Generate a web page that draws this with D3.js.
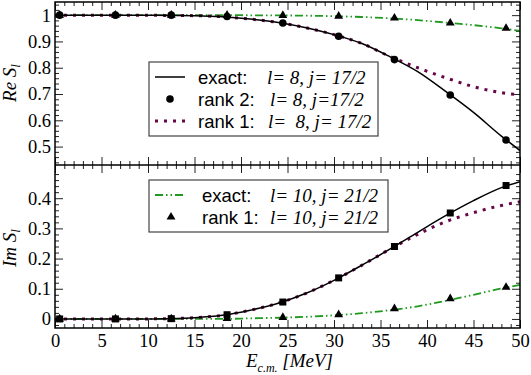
<!DOCTYPE html>
<html>
<head>
<meta charset="utf-8">
<script src="https://cdn.jsdelivr.net/npm/d3@7"></script>
<style>
  body { margin: 0; background: #fff; }
  svg { display: block; }
  .lab { font-family: 'Liberation Serif', serif; font-style: italic; font-size: 19px; }
  .leg { font-family: 'Liberation Sans', Arial, sans-serif; font-size: 18.5px; font-style: normal; }
</style>
</head>
<body>
<svg id="chart" width="531" height="375"></svg>
<script>
// energies of the smooth curves and of the markers (MeV)
const eCurve = [0, 3, 6, 9, 12, 15, 18, 21, 24, 27, 30, 33, 36, 39, 42, 45, 48, 50];
const eMarks = [0.5, 6.5, 12.5, 18.5, 24.5, 30.5, 36.5, 42.5, 48.5];

// Re S_l
const reExactL8 = [1, 1, 1, 1, 0.999, 0.998, 0.994, 0.985, 0.972, 0.952, 0.926, 0.892, 0.842, 0.785, 0.71, 0.63, 0.54, 0.485];
const reRank1L8 = [1, 1, 1, 1, 0.999, 0.998, 0.994, 0.985, 0.972, 0.952, 0.926, 0.892, 0.843, 0.8, 0.762, 0.728, 0.705, 0.697];
const reExactL10 = [1, 1, 1, 1, 1, 1, 1, 0.9995, 0.999, 0.998, 0.996, 0.993, 0.988, 0.981, 0.972, 0.962, 0.95, 0.94];
const reRank2L8Pts = [1, 1, 1, 0.995, 0.97, 0.92, 0.831, 0.696, 0.525];
const reRank1L10Pts = [1, 1, 1, 1, 0.999, 0.996, 0.989, 0.97, 0.95];

// Im S_l
const imExactL8 = [0, 0, 0, 0, 0.001, 0.004, 0.012, 0.029, 0.052, 0.085, 0.128, 0.178, 0.231, 0.287, 0.342, 0.392, 0.435, 0.455];
const imRank1L8 = [0, 0, 0, 0, 0.001, 0.004, 0.012, 0.029, 0.052, 0.085, 0.128, 0.178, 0.231, 0.28, 0.322, 0.352, 0.376, 0.388];
const imExactL10 = [0, 0, 0, 0, 0, 0, 0, 0.002, 0.004, 0.007, 0.012, 0.019, 0.029, 0.042, 0.06, 0.08, 0.101, 0.113];
const imRank2L8Pts = [0, 0, 0.001, 0.014, 0.056, 0.136, 0.24, 0.351, 0.442];
const imRank1L10Pts = [0, 0, 0, 0.002, 0.005, 0.014, 0.034, 0.067, 0.105];

const xMajor = [0, 5, 10, 15, 20, 25, 30, 35, 40, 45, 50];
const reMajor = [0.5, 0.6, 0.7, 0.8, 0.9, 1];
const imMajor = [0, 0.1, 0.2, 0.3, 0.4];

const BLACK = '#000', GREEN = '#1f9a1f', MAROON = '#670748';
const SERIF = "'Liberation Serif', 'Times New Roman', serif";

const svg = d3.select('#chart');
const L = 55, R = 520, T = 2, M = 165, B = 328;

const x = d3.scaleLinear().domain([0, 50]).range([L, R]);
const yRe = d3.scaleLinear().domain([0.43, 1.05]).range([M, T]);
const yIm = d3.scaleLinear().domain([-0.03, 0.51]).range([B, M]);

const xMinor = d3.range(0, 51, 1).filter((v) => v % 5 !== 0);

function drawPanel(y, major, minor, top, bottom, showX, clipId) {
  const g = svg.append('g');
  const tickStyle = (sel) => {
    sel.select('.domain').remove();
    sel.selectAll('text')
      .style('font-family', SERIF).style('font-size', '18.5px').style('font-style', 'normal')
      .attr('fill', '#000');
    sel.selectAll('line').attr('stroke', '#222').attr('stroke-width', 1);
  };
  // y axes
  g.append('g').attr('transform', `translate(${L},0)`)
    .call(d3.axisLeft(y).tickValues(major).tickSize(-8).tickPadding(4)
      .tickFormat((d) => (d === 1 ? '1' : d3.format('.1f')(d).replace(/^0\.0$/, '0'))))
    .call(tickStyle);
  g.append('g').attr('transform', `translate(${L},0)`)
    .call(d3.axisLeft(y).tickValues(minor).tickSize(-4).tickFormat(''))
    .call(tickStyle);
  g.append('g').attr('transform', `translate(${R},0)`)
    .call(d3.axisRight(y).tickValues(major).tickSize(-8).tickFormat(''))
    .call(tickStyle);
  g.append('g').attr('transform', `translate(${R},0)`)
    .call(d3.axisRight(y).tickValues(minor).tickSize(-4).tickFormat(''))
    .call(tickStyle);
  // x axes
  g.append('g').attr('transform', `translate(0,${top})`)
    .call(d3.axisTop(x).tickValues(xMajor).tickSize(-8).tickFormat(''))
    .call(tickStyle);
  g.append('g').attr('transform', `translate(0,${top})`)
    .call(d3.axisTop(x).tickValues(xMinor).tickSize(-4).tickFormat(''))
    .call(tickStyle);
  g.append('g').attr('transform', `translate(0,${bottom})`)
    .call(d3.axisBottom(x).tickValues(xMajor).tickSize(-8).tickPadding(6)
      .tickFormat(showX ? d3.format('d') : ''))
    .call(tickStyle)
    .call((s) => s.selectAll('text').attr('dy', '0.71em'));
  g.append('g').attr('transform', `translate(0,${bottom})`)
    .call(d3.axisBottom(x).tickValues(xMinor).tickSize(-4).tickFormat(''))
    .call(tickStyle);

  svg.append('clipPath').attr('id', clipId)
    .append('rect').attr('x', L).attr('y', top).attr('width', R - L).attr('height', bottom - top);
  return svg.append('g').attr('clip-path', `url(#${clipId})`);
}

const line = (y) => d3.line().x((d) => x(d[0])).y((d) => y(d[1])).curve(d3.curveMonotoneX);
const zip = (xs, ys) => xs.map((v, i) => [v, ys[i]]);

function curve(g, y, vals, color, width, dash) {
  g.append('path').datum(zip(eCurve, vals))
    .attr('d', line(y)).attr('fill', 'none')
    .attr('stroke', color).attr('stroke-width', width)
    .attr('stroke-dasharray', dash || null);
}

const tri = d3.symbol().type(d3.symbolTriangle).size(34);
function markers(g, y, vals, kind) {
  const sel = g.selectAll(null).data(zip(eMarks, vals)).enter();
  if (kind === 'circle') {
    sel.append('circle').attr('cx', (d) => x(d[0])).attr('cy', (d) => y(d[1])).attr('r', 3.8).attr('fill', BLACK);
  } else if (kind === 'square') {
    sel.append('rect').attr('x', (d) => x(d[0]) - 3.5).attr('y', (d) => y(d[1]) - 3.5)
      .attr('width', 7).attr('height', 7).attr('fill', BLACK);
  } else {
    sel.append('path').attr('d', tri)
      .attr('transform', (d) => `translate(${x(d[0])},${y(d[1])})`).attr('fill', BLACK);
  }
}

const DASHDOT = '8,3,1.5,3,1.5,3';
const DOTS = '3,6';

// top panel
const gRe = drawPanel(yRe, reMajor, d3.range(0.44, 1.05, 0.02).filter((v) => Math.round(v * 100) % 10 !== 0), T, M, false, 'clipRe');
curve(gRe, yRe, reExactL10, GREEN, 1.8, DASHDOT);
markers(gRe, yRe, reRank1L10Pts, 'tri');
curve(gRe, yRe, reRank1L8, MAROON, 3, DOTS);
curve(gRe, yRe, reExactL8, BLACK, 1.5);
markers(gRe, yRe, reRank2L8Pts, 'circle');

// bottom panel
const gIm = drawPanel(yIm, imMajor, d3.range(-0.02, 0.51, 0.02).filter((v) => Math.round(v * 100) % 10 !== 0), M, B, true, 'clipIm');
curve(gIm, yIm, imExactL10, GREEN, 1.8, DASHDOT);
markers(gIm, yIm, imRank1L10Pts, 'tri');
curve(gIm, yIm, imRank1L8, MAROON, 3, DOTS);
curve(gIm, yIm, imExactL8, BLACK, 1.5);
markers(gIm, yIm, imRank2L8Pts, 'square');

// frame
svg.append('rect').attr('x', L).attr('y', T).attr('width', R - L).attr('height', B - T)
  .attr('fill', 'none').attr('stroke', '#000').attr('stroke-width', 1.5);
svg.append('line').attr('x1', L).attr('x2', R).attr('y1', M).attr('y2', M)
  .attr('stroke', '#000').attr('stroke-width', 1.5);

// axis titles
function subLabel(tx, ty, main, sub) {
  const t = svg.append('text').attr('class', 'lab')
    .attr('transform', `translate(${tx},${ty}) rotate(-90)`).attr('text-anchor', 'middle');
  t.append('tspan').text(main);
  t.append('tspan').attr('font-size', 13).attr('dy', 4).text(sub);
}
subLabel(16, 83, 'Re  S', 'l');
subLabel(16, 248, 'Im  S', 'l');

const xt = svg.append('text').attr('class', 'lab').attr('x', 246).attr('y', 367);
xt.append('tspan').text('E');
xt.append('tspan').attr('font-size', 12).attr('dy', 5).text('c.m.');
xt.append('tspan').attr('dy', -5).text(' [MeV]');

// legends
function legend(x0, y0, w, rows) {
  const rowH = 22;
  const g = svg.append('g');
  g.append('rect').attr('x', x0).attr('y', y0).attr('width', w).attr('height', rows.length * rowH + 8)
    .attr('fill', '#fff').attr('stroke', '#444').attr('stroke-width', 1.2);
  rows.forEach((r, i) => {
    const cy = y0 + 15 + i * rowH;
    if (r.sym === 'line') {
      g.append('line').attr('x1', x0 + 6).attr('x2', x0 + 36).attr('y1', cy).attr('y2', cy)
        .attr('stroke', r.color).attr('stroke-width', r.width).attr('stroke-dasharray', r.dash || null);
    } else if (r.sym === 'circle') {
      g.append('circle').attr('cx', x0 + 21).attr('cy', cy).attr('r', 3.8).attr('fill', BLACK);
    } else {
      g.append('path').attr('d', tri).attr('transform', `translate(${x0 + 22},${cy})`).attr('fill', BLACK);
    }
    const t = g.append('text').attr('x', x0 + r.tx).attr('y', cy + 6.5);
    t.append('tspan').attr('class', 'leg').text(r.name);
    t.append('tspan').attr('class', 'lab').attr('x', x0 + r.ix).attr('xml:space', 'preserve').text(r.qn);
  });
}

legend(149, 62, 229, [
  { sym: 'line', color: BLACK, width: 1.5, name: 'exact:', qn: 'l= 8, j= 17/2', tx: 49, ix: 118 },
  { sym: 'circle', name: 'rank 2:', qn: 'l= 8, j=17/2', tx: 49, ix: 121 },
  { sym: 'line', color: MAROON, width: 3, dash: DOTS, name: 'rank 1:', qn: 'l=  8, j= 17/2', tx: 49, ix: 119 }
]);
legend(149, 180, 239, [
  { sym: 'line', color: GREEN, width: 1.8, dash: DASHDOT, name: 'exact:', qn: 'l= 10, j= 21/2', tx: 53, ix: 121 },
  { sym: 'tri', name: 'rank 1:', qn: 'l= 10, j= 21/2', tx: 53, ix: 121 }
]);
</script>
</body>
</html>
